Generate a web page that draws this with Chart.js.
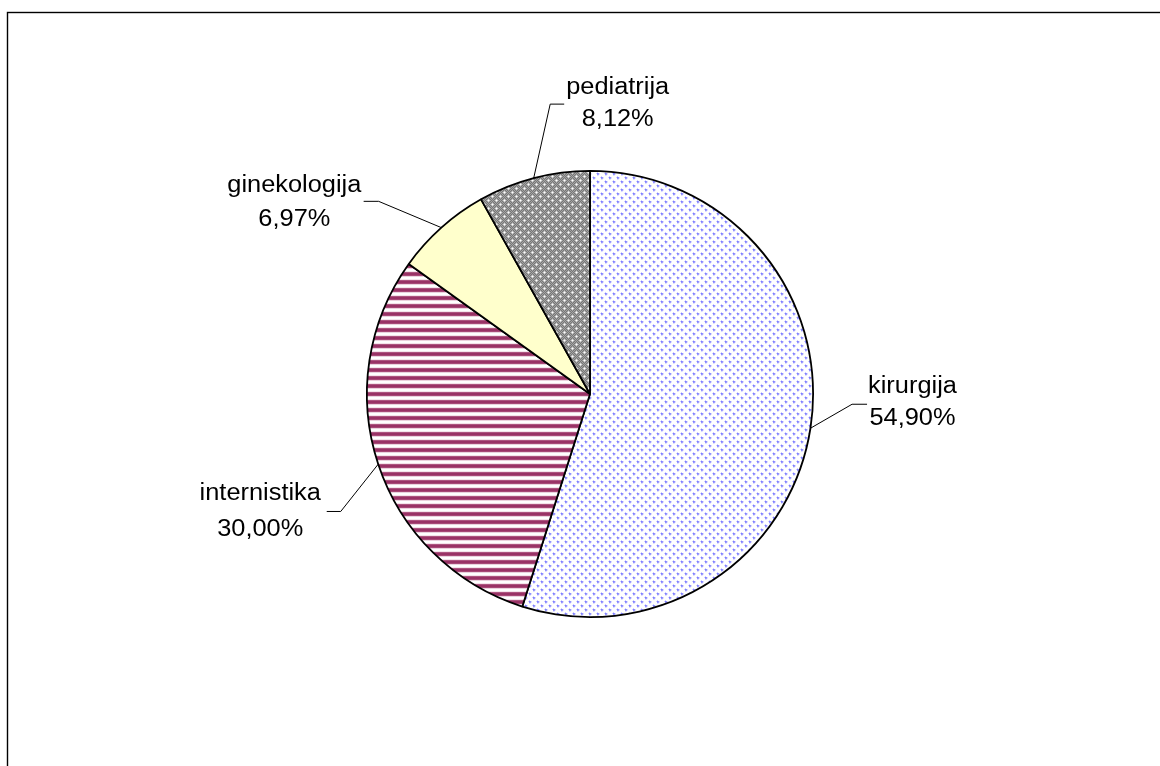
<!DOCTYPE html>
<html>
<head>
<meta charset="utf-8">
<script src="https://cdn.jsdelivr.net/npm/chart.js@4/dist/chart.umd.min.js"></script>
<style>
  html, body { margin: 0; padding: 0; background: #ffffff; }
  canvas { display: block; }
</style>
</head>
<body>
<canvas id="c" width="1160" height="766"></canvas>
<script>
// ---- data ----
const categories = ['kirurgija', 'internistika', 'ginekologija', 'pediatrija'];
const shares = [54.90, 30.00, 6.97, 8.12];
const valueLabels = ['54,90%', '30,00%', '6,97%', '8,12%'];

// ---- label layout (offsets from the slice's outer mid point) ----
const labelLayout = [
  { elbow: [41.6, -24], end: [56.6, -24], tx: 102, lines: [-35, -3] },
  { elbow: [-37.5, 47.3], end: [-51.5, 47.3], tx: -118, lines: [36.3, 72.3] },
  { elbow: [-62.7, -26.3], end: [-77.7, -26.3], tx: -147, lines: [-36, -2] },
  { elbow: [16.5, -74], end: [30.5, -74], tx: 84, lines: [-84, -52] }
];

// ---- fill patterns ----
function makeTile(size, painter) {
  const cv = document.createElement('canvas');
  cv.width = size; cv.height = size;
  const g = cv.getContext('2d');
  painter(g, size);
  return g.createPattern(cv, 'repeat');
}
function px(g, x, y, c) { g.fillStyle = c; g.fillRect(x, y, 1, 1); }

const dotsPattern = makeTile(8, (g, s) => {
  g.fillStyle = '#ffffff'; g.fillRect(0, 0, s, s);
  [[1, 1], [5, 5]].forEach(([cx, cy]) => {
    px(g, cx, cy, '#7f7fff');
    px(g, cx + 1, cy, '#9292ff'); px(g, cx, cy + 1, '#9292ff'); px(g, cx + 1, cy + 1, '#a0a0ff');
    px(g, cx - 1, cy, '#d0d0ff'); px(g, cx, cy - 1, '#d0d0ff');
    px(g, cx + 2, cy, '#dadaff'); px(g, cx, cy + 2, '#dadaff');
    px(g, cx + 2, cy + 1, '#e6e6ff'); px(g, cx + 1, cy + 2, '#e6e6ff');
  });
});

const stripePattern = makeTile(8, (g, s) => {
  const rows = ['#ad5580', '#993366', '#993366', '#a84a78', '#ead3de', '#ffffff', '#ffffff', '#f3e3ea'];
  rows.forEach((c, y) => { g.fillStyle = c; g.fillRect(0, y, s, 1); });
});

const hatchPattern = makeTile(8, (g, s) => {
  const centers = [[0, 0], [4, 4]];
  for (let y = 0; y < s; y++) {
    for (let x = 0; x < s; x++) {
      let d = 99;
      centers.forEach(([cx, cy]) => {
        for (let ox = -s; ox <= s; ox += s) for (let oy = -s; oy <= s; oy += s) {
          d = Math.min(d, Math.abs(x - cx - ox) + Math.abs(y - cy - oy));
        }
      });
      let c;
      if (d === 0) c = '#ffffff';
      else if (d === 1) c = '#d8d8d8';
      else c = ((x + y) % 2) ? '#777777' : '#a3a3a3';
      px(g, x, y, c);
    }
  }
});

const fills = [dotsPattern, stripePattern, '#ffffcc', hatchPattern];

// ---- plugins ----
const framePlugin = {
  id: 'frame',
  beforeDraw(chart) {
    const ctx = chart.ctx;
    ctx.save();
    ctx.fillStyle = '#ffffff';
    ctx.fillRect(0, 0, chart.width, chart.height);
    ctx.strokeStyle = '#000000';
    ctx.lineWidth = 1.4;
    ctx.strokeRect(7.5, 12.5, chart.width + 20, chart.height + 20);
    ctx.restore();
  }
};

const labelPlugin = {
  id: 'sliceLabels',
  afterDatasetsDraw(chart) {
    const ctx = chart.ctx;
    const meta = chart.getDatasetMeta(0);
    ctx.save();
    meta.data.forEach((arc, i) => {
      const { x, y, startAngle, endAngle, outerRadius } =
        arc.getProps(['x', 'y', 'startAngle', 'endAngle', 'outerRadius'], true);
      const mid = (startAngle + endAngle) / 2;
      const px0 = x + Math.cos(mid) * outerRadius;
      const py0 = y + Math.sin(mid) * outerRadius;
      const L = labelLayout[i];
      ctx.strokeStyle = '#000000';
      ctx.lineWidth = 1;
      ctx.beginPath();
      ctx.moveTo(px0, py0);
      ctx.lineTo(px0 + L.elbow[0], py0 + L.elbow[1]);
      ctx.lineTo(px0 + L.end[0], py0 + L.end[1]);
      ctx.stroke();
      ctx.fillStyle = '#000000';
      ctx.font = '23.5px "Liberation Sans", Arial, sans-serif';
      ctx.textAlign = 'center';
      ctx.textBaseline = 'alphabetic';
      [categories[i], valueLabels[i]].forEach((t, k) => {
        ctx.save();
        ctx.translate(px0 + L.tx, py0 + L.lines[k]);
        ctx.scale(1.08, 1);
        ctx.fillText(t, 0, 0);
        ctx.restore();
      });
    });
    ctx.restore();
  }
};

new Chart(document.getElementById('c'), {
  type: 'pie',
  data: {
    labels: categories,
    datasets: [{
      data: shares,
      backgroundColor: fills,
      borderColor: '#000000',
      borderWidth: 1.8
    }]
  },
  options: {
    responsive: false,
    animation: false,
    devicePixelRatio: 1,
    layout: { padding: { left: 366, right: 346, top: 170, bottom: 148 } },
    plugins: {
      legend: { display: false },
      tooltip: { enabled: false }
    }
  },
  plugins: [framePlugin, labelPlugin]
});
</script>
</body>
</html>
